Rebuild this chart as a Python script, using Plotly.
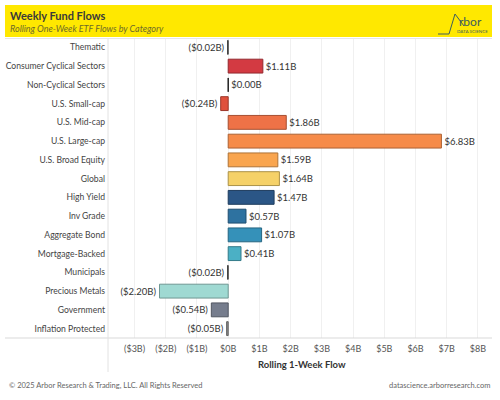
import plotly.graph_objects as go

categories = ["Thematic", "Consumer Cyclical Sectors", "Non-Cyclical Sectors", "U.S. Small-cap",
              "U.S. Mid-cap", "U.S. Large-cap", "U.S. Broad Equity", "Global", "High Yield",
              "Inv Grade", "Aggregate Bond", "Mortgage-Backed", "Municipals", "Precious Metals",
              "Government", "Inflation Protected"]
flows = [-0.02, 1.11, 0.00, -0.24, 1.86, 6.83, 1.59, 1.64, 1.47, 0.57, 1.07, 0.41, -0.02, -2.20, -0.54, -0.05]
colors = ["#5a5a5a", "#d33a42", "#222222", "#e0503c", "#ee7247", "#f68b49", "#f9a54f", "#f5d168",
          "#2b5686", "#2e72a0", "#3591b9", "#4bb0c5", "#5a5a5a", "#9fd9d2", "#767d8d", "#8c8c8c"]
tick_vals = [-3, -2, -1, 0, 1, 2, 3, 4, 5, 6, 7, 8]
tick_text = ["($3B)", "($2B)", "($1B)", "$0B", "$1B", "$2B", "$3B", "$4B", "$5B", "$6B", "$7B", "$8B"]


def fmt(v):
    return f"(${abs(v):.2f}B)" if v < 0 else f"${v:.2f}B"


def darker(h, f=0.7):
    h = h.lstrip("#")
    r, g, b = (int(h[i:i + 2], 16) for i in (0, 2, 4))
    return f"rgb({int(r * f)},{int(g * f)},{int(b * f)})"


W, H = 500, 400
L, R, T, B = 108, 8, 38, 62
PW, PH = W - L - R, H - T - B


def px(x):
    return (x - L) / PW


def py(y):
    return (H - B - y) / PH


FONT = "Lato"

fig = go.Figure(go.Bar(
    y=categories, x=flows, orientation="h",
    marker=dict(color=colors, line=dict(color=[darker(c) for c in colors], width=1)),
    width=0.74,
    text=[fmt(v) for v in flows], textposition="outside", cliponaxis=False,
    textfont=dict(family=FONT, size=9.5, color="#333333"),
    hoverinfo="skip",
))

shapes = [
    dict(type="rect", xref="paper", yref="paper", x0=px(5), x1=px(492), y0=py(37), y1=py(5),
         fillcolor="#ffe800", line=dict(width=0), layer="below"),
    dict(type="line", xref="paper", yref="paper", x0=px(5), x1=px(492), y0=py(338), y1=py(338),
         line=dict(color="#d9d9d9", width=1)),
    dict(type="line", xref="paper", yref="paper", x0=px(108), x1=px(108), y0=py(38), y1=py(372),
         line=dict(color="#e2e2e2", width=1)),
    dict(type="line", xref="paper", yref="paper", x0=px(5), x1=px(492), y0=py(38.5), y1=py(38.5),
         line=dict(color="#e6e6e6", width=1)),
    # logo "A" stroke
    dict(type="path", xref="paper", yref="paper",
         path=f"M {px(438)},{py(34)} L {px(449)},{py(34)} L {px(455)},{py(14)} L {px(464)},{py(26)}",
         line=dict(color="#3e5d5f", width=1)),
]

annotations = [
    dict(text="<b>Weekly Fund Flows</b>", x=px(8), y=py(15.5), xref="paper", yref="paper",
         xanchor="left", yanchor="middle", showarrow=False,
         font=dict(family=FONT, size=11, color="#3a3a3a")),
    dict(text="<i>Rolling One-Week ETF Flows by Category</i>", x=px(8), y=py(28.5), xref="paper", yref="paper",
         xanchor="left", yanchor="middle", showarrow=False,
         font=dict(family=FONT, size=9, color="#6d6a2a")),
    dict(text="rbor", x=px(457), y=py(21), xref="paper", yref="paper",
         xanchor="left", yanchor="middle", showarrow=False,
         font=dict(family=FONT, size=12, color="#3e5d5f")),
    dict(text="DATA SCIENCE", x=px(490), y=py(32), xref="paper", yref="paper",
         xanchor="right", yanchor="middle", showarrow=False,
         font=dict(family=FONT, size=4.5, color="#3e5d5f")),
    dict(text="<b>Rolling 1-Week Flow</b>", x=px(302), y=py(364), xref="paper", yref="paper",
         xanchor="center", yanchor="middle", showarrow=False,
         font=dict(family=FONT, size=9.5, color="#333333")),
    dict(text="© 2025 Arbor Research & Trading, LLC. All Rights Reserved", x=px(7), y=py(385),
         xref="paper", yref="paper", xanchor="left", yanchor="middle", showarrow=False,
         font=dict(family=FONT, size=7.5, color="#666666")),
    dict(text="datascience.arborresearch.com", x=px(492), y=py(385),
         xref="paper", yref="paper", xanchor="right", yanchor="middle", showarrow=False,
         font=dict(family=FONT, size=7.5, color="#666666")),
]

fig.update_layout(
    width=W, height=H, margin=dict(l=L, r=R, t=T, b=B, autoexpand=False),
    paper_bgcolor="white", plot_bgcolor="white",
    showlegend=False, bargap=0.26,
    font=dict(family=FONT),
    xaxis=dict(range=[-3.85, 8.45], tickvals=tick_vals, ticktext=tick_text,
               showgrid=True, gridcolor="#f0f0f0", gridwidth=1, zeroline=False,
               showline=False, ticks="", ticklabelstandoff=4, automargin=False,
               tickfont=dict(family=FONT, size=9, color="#555555"), fixedrange=True),
    yaxis=dict(categoryorder="array", categoryarray=categories, autorange="reversed",
               showgrid=False, zeroline=False, showline=False, ticks="",
               ticklabelstandoff=2, automargin=False,
               tickfont=dict(family=FONT, size=8.6, color="#444444"), fixedrange=True),
    shapes=shapes, annotations=annotations,
)

fig.write_html("out.html")
